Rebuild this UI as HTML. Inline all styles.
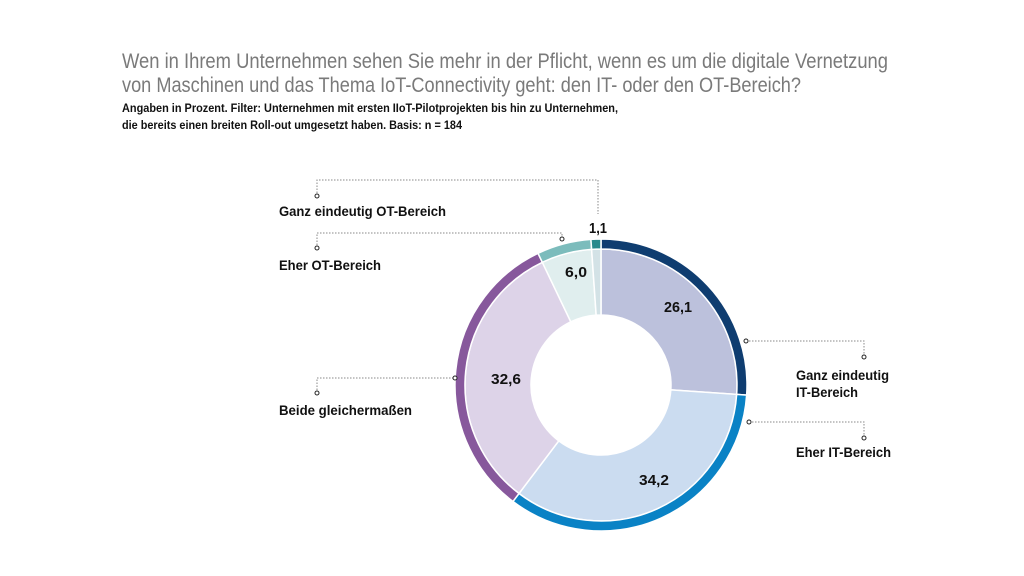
<!DOCTYPE html>
<html><head><meta charset="utf-8">
<style>
html,body{margin:0;padding:0;background:#fff;width:1024px;height:576px;overflow:hidden}
svg{display:block}
.t{font-family:"Liberation Sans",sans-serif;fill:#7a7a7a;font-size:21px}
.s{font-family:"Liberation Sans",sans-serif;font-weight:bold;fill:#111;font-size:12px}
.l{font-family:"Liberation Sans",sans-serif;font-weight:bold;fill:#111;font-size:14px}
.v{font-family:"Liberation Sans",sans-serif;font-weight:bold;fill:#111;font-size:15px}
.d{stroke:#888;stroke-width:1;stroke-dasharray:1.5 1.5;fill:none}
.c{fill:#fff;stroke:#222;stroke-width:1}
</style></head><body>
<svg id="s" width="1024" height="576" viewBox="0 0 1024 576">
<text class="t" x="122" y="68" textLength="766" lengthAdjust="spacingAndGlyphs">Wen in Ihrem Unternehmen sehen Sie mehr in der Pflicht, wenn es um die digitale Vernetzung</text>
<text class="t" x="122" y="92" textLength="679" lengthAdjust="spacingAndGlyphs">von Maschinen und das Thema IoT-Connectivity geht: den IT- oder den OT-Bereich?</text>
<text class="s" x="122" y="112" textLength="496" lengthAdjust="spacingAndGlyphs">Angaben in Prozent. Filter: Unternehmen mit ersten IIoT-Pilotprojekten bis hin zu Unternehmen,</text>
<text class="s" x="122" y="129" textLength="340" lengthAdjust="spacingAndGlyphs">die bereits einen breiten Roll-out umgesetzt haben. Basis: n = 184</text>
<g id="donut"></g>
<polyline class="d" points="317,196 317,180 598,180 598,214"/>
<circle class="c" cx="317" cy="196" r="2"/>
<text class="l" x="279" y="216" textLength="167" lengthAdjust="spacingAndGlyphs">Ganz eindeutig OT-Bereich</text>
<polyline class="d" points="317,248 317,233 562,233 562,239"/>
<circle class="c" cx="317" cy="248" r="2"/><circle class="c" cx="562" cy="239" r="2"/>
<text class="l" x="279" y="270" textLength="102" lengthAdjust="spacingAndGlyphs">Eher OT-Bereich</text>
<polyline class="d" points="317,393 317,378 455,378"/>
<circle class="c" cx="317" cy="393" r="2"/><circle class="c" cx="455" cy="378" r="2"/>
<text class="l" x="279" y="415" textLength="133" lengthAdjust="spacingAndGlyphs">Beide gleichermaßen</text>
<polyline class="d" points="746,341 864,341 864,357"/>
<circle class="c" cx="746" cy="341" r="2"/><circle class="c" cx="864" cy="357" r="2"/>
<text class="l" x="796" y="380" textLength="93" lengthAdjust="spacingAndGlyphs">Ganz eindeutig</text>
<text class="l" x="796" y="397" textLength="62" lengthAdjust="spacingAndGlyphs">IT-Bereich</text>
<polyline class="d" points="749,422 864,422 864,438"/>
<circle class="c" cx="749" cy="422" r="2"/><circle class="c" cx="864" cy="438" r="2"/>
<text class="l" x="796" y="457" textLength="95" lengthAdjust="spacingAndGlyphs">Eher IT-Bereich</text>
<text class="v" x="664" y="312" textLength="28" lengthAdjust="spacingAndGlyphs">26,1</text>
<text class="v" x="639" y="485" textLength="30" lengthAdjust="spacingAndGlyphs">34,2</text>
<text class="v" x="491" y="384" textLength="30" lengthAdjust="spacingAndGlyphs">32,6</text>
<text class="v" x="565" y="277" textLength="22" lengthAdjust="spacingAndGlyphs">6,0</text>
<text class="v" x="589" y="233" textLength="18" lengthAdjust="spacingAndGlyphs">1,1</text>
</svg>
<script>
var cx=601,cy=385,R=146,Rm=136,Ri=70;
var segs=[[26.1,'#0f3d70','#bcc1dc'],[34.2,'#0a82c5','#cbdcf0'],[32.6,'#87589c','#ddd3e8'],[6.0,'#7cbcbc','#e0eeee'],[1.1,'#2a8a8c','#d3e2e6']];
function p(r,a){return [cx+r*Math.cos(a),cy+r*Math.sin(a)];}
function arc(r1,r2,a0,a1){var la=(a1-a0)>Math.PI?1:0;var A=p(r2,a0),B=p(r2,a1),C=p(r1,a1),D=p(r1,a0);
return 'M'+A+' A'+r2+','+r2+' 0 '+la+' 1 '+B+' L'+C+' A'+r1+','+r1+' 0 '+la+' 0 '+D+'Z';}
var g=document.getElementById('donut'),h='',c=0;
segs.forEach(function(s){var a0=-Math.PI/2+c/100*2*Math.PI;c+=s[0];var a1=-Math.PI/2+c/100*2*Math.PI;
h+='<path d="'+arc(Ri,Rm,a0,a1)+'" fill="'+s[2]+'" stroke="#fff" stroke-width="1.5"/>';
h+='<path d="'+arc(Rm,R,a0,a1)+'" fill="'+s[1]+'" stroke="#fff" stroke-width="1.5"/>';});
g.innerHTML=h;
</script>
</body></html>
